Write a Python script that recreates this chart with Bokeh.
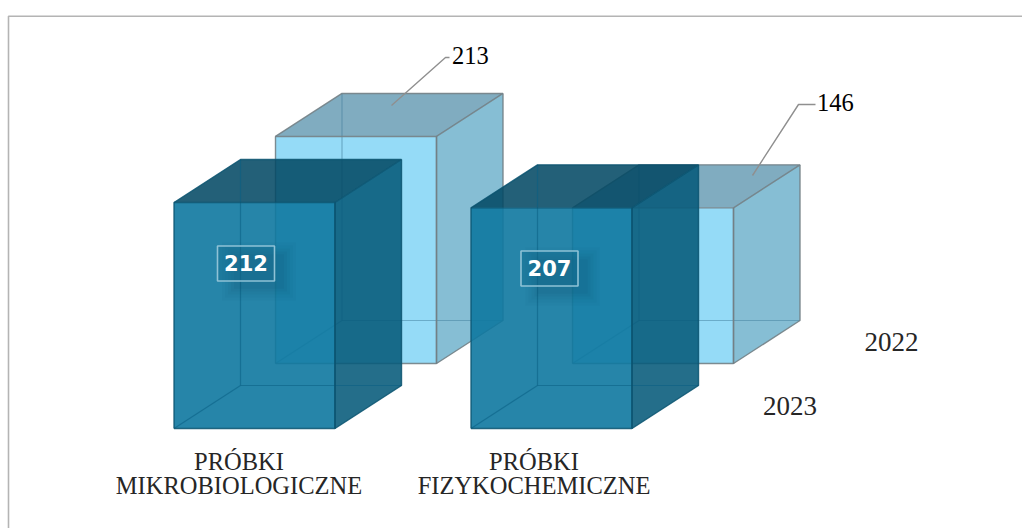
from bokeh.plotting import figure
from bokeh.models import Range1d
from bokeh.core.properties import value
from bokeh.embed import file_html
from bokeh.resources import INLINE

# ---- data ----
categories = ["PRÓBKI\nMIKROBIOLOGICZNE", "PRÓBKI\nFIZYKOCHEMICZNE"]
years = ["2022", "2023"]
values_2022 = [213, 146]
values_2023 = [212, 207]

# ---- layout (page pixels) ----
PX_PER_UNIT = 226 / 212
BASE_PX = 428          # baseline of the front row
X0 = 173.5
CAT_STEP = 297
BAR_W = 161
DEPTH_X, DEPTH_Y = 66.5, 43
ROW_X, ROW_Y = 101.5, 65

def yv(px):
    return (BASE_PX - px) / PX_PER_UNIT

p = figure(width=1022, height=528, output_backend="svg", toolbar_location=None,
           x_range=Range1d(0, 1022), y_range=Range1d(yv(528), yv(0)),
           x_axis_location=None, y_axis_location=None, min_border=0,
           background_fill_color="#ffffff", border_fill_color="#ffffff")
p.grid.visible = False
p.outline_line_color = None

# frame of the picture (left and top only)
p.line([8.0, 8.0, 1022], [yv(528), yv(15.7), yv(15.7)], line_color="#b4b4b4", line_width=1.6)


def cuboid(i, val, row, st):
    x0 = X0 + i * CAT_STEP + row * ROW_X
    x1 = x0 + BAR_W
    b = row * ROW_Y / PX_PER_UNIT
    t = b + val
    dx, dy = DEPTH_X, DEPTH_Y / PX_PER_UNIT
    # top, side and front faces
    p.patch([x0, x1, x1 + dx, x0 + dx], [t, t, t + dy, t + dy],
            fill_color=st["top"], fill_alpha=st["top_a"], line_color=None)
    p.patch([x1, x1 + dx, x1 + dx, x1], [b, b + dy, t + dy, t],
            fill_color=st["side"], fill_alpha=st["side_a"], line_color=None)
    p.patch([x0, x1, x1, x0], [b, b, t, t],
            fill_color=st["front"], fill_alpha=st["front_a"], line_color=None)
    # hidden edges seen through the box
    p.multi_line([[x0 + dx, x0 + dx], [x0 + dx, x1 + dx], [x0, x0 + dx]],
                 [[b + dy, t + dy], [b + dy, b + dy], [b, b + dy]],
                 line_color=st["inner"], line_alpha=st["inner_a"], line_width=1.2)
    # visible edges
    p.multi_line([[x0, x1, x1, x0, x0],
                  [x0, x0 + dx, x1 + dx, x1],
                  [x1 + dx, x1 + dx, x1],
                  [x1, x1]],
                 [[b, b, t, t, b],
                  [t, t + dy, t + dy, t],
                  [t + dy, b + dy, b],
                  [t, b]],
                 line_color=st["edge"], line_alpha=st["edge_a"], line_width=1.4)


style_2022 = dict(front="#95dbf7", front_a=1, top="#80acc0", top_a=1, side="#86bed4", side_a=1,
                  inner="#3f7d9c", inner_a=.5, edge="#727f85", edge_a=.9)
style_2023 = dict(front="#0e78a0", front_a=.9, top="#024864", top_a=.87, side="#065a7a", side_a=.88,
                  inner="#0a5f83", inner_a=.55, edge="#0a5370", edge_a=.85)

for i, v in enumerate(values_2022):
    cuboid(i, v, 1, style_2022)

# leader lines of the back row
lead_x = [[391, 445, 449], [752, 798, 815]]
lead_y = [[105, 57, 57], [175, 104, 104]]
for lx, ly in zip(lead_x, lead_y):
    p.line(lx, [yv(q) for q in ly], line_color="#8f8f8f", line_width=1.4)

for i, v in enumerate(values_2023):
    cuboid(i, v, 0, style_2023)

serif = value("Liberation Serif")

# value labels, back row
p.text([451.5, 816.5], [yv(54.5), yv(101.5)], text=[str(v) for v in values_2022], text_font=serif,
       text_font_size="24.5px", text_color="#000000", text_align="left", text_baseline="middle")

# value labels, front row, in small framed boxes with a soft shadow
box_cx = [245.5, 549]
box_cy = [263, 268]
for cx, cy, v in zip(box_cx, box_cy, values_2023):
    for grow, a in [(12, .03), (9, .04), (6, .05), (3, .06), (0, .07)]:
        p.quad(left=cx - 22 - grow + 10, right=cx + 28 + grow + 10,
               bottom=yv(cy + 19 + grow + 6), top=yv(cy - 15 - grow + 6),
               fill_color="#0c4a66", fill_alpha=a, line_color=None)
    p.quad(left=cx - 28.5, right=cx + 28.5, bottom=yv(cy + 17.5), top=yv(cy - 17.5),
           fill_color="#11688c", fill_alpha=.4, line_color="#8fc2d6", line_width=1.6)
    p.text([cx], [yv(cy - 1)], text=[str(v)], text_font=value("DejaVu Sans"), text_font_style="bold",
           text_font_size="21px", text_color="#ffffff", text_align="center", text_baseline="middle")

# category labels
cat_cx = [238.5, 533.5]
for cx, label in zip(cat_cx, categories):
    for line, py in zip(label.split("\n"), [460.5, 485]):
        p.text([cx], [yv(py)], text=[line], text_font=serif, text_font_size="24.5px",
               text_color="#262626", text_align="center", text_baseline="middle")

# series labels
p.text([891, 789.5], [yv(341), yv(405)], text=years, text_font=serif, text_font_size="27px",
       text_color="#262626", text_align="center", text_baseline="middle")

open("out.html", "w").write(file_html(p, INLINE))
